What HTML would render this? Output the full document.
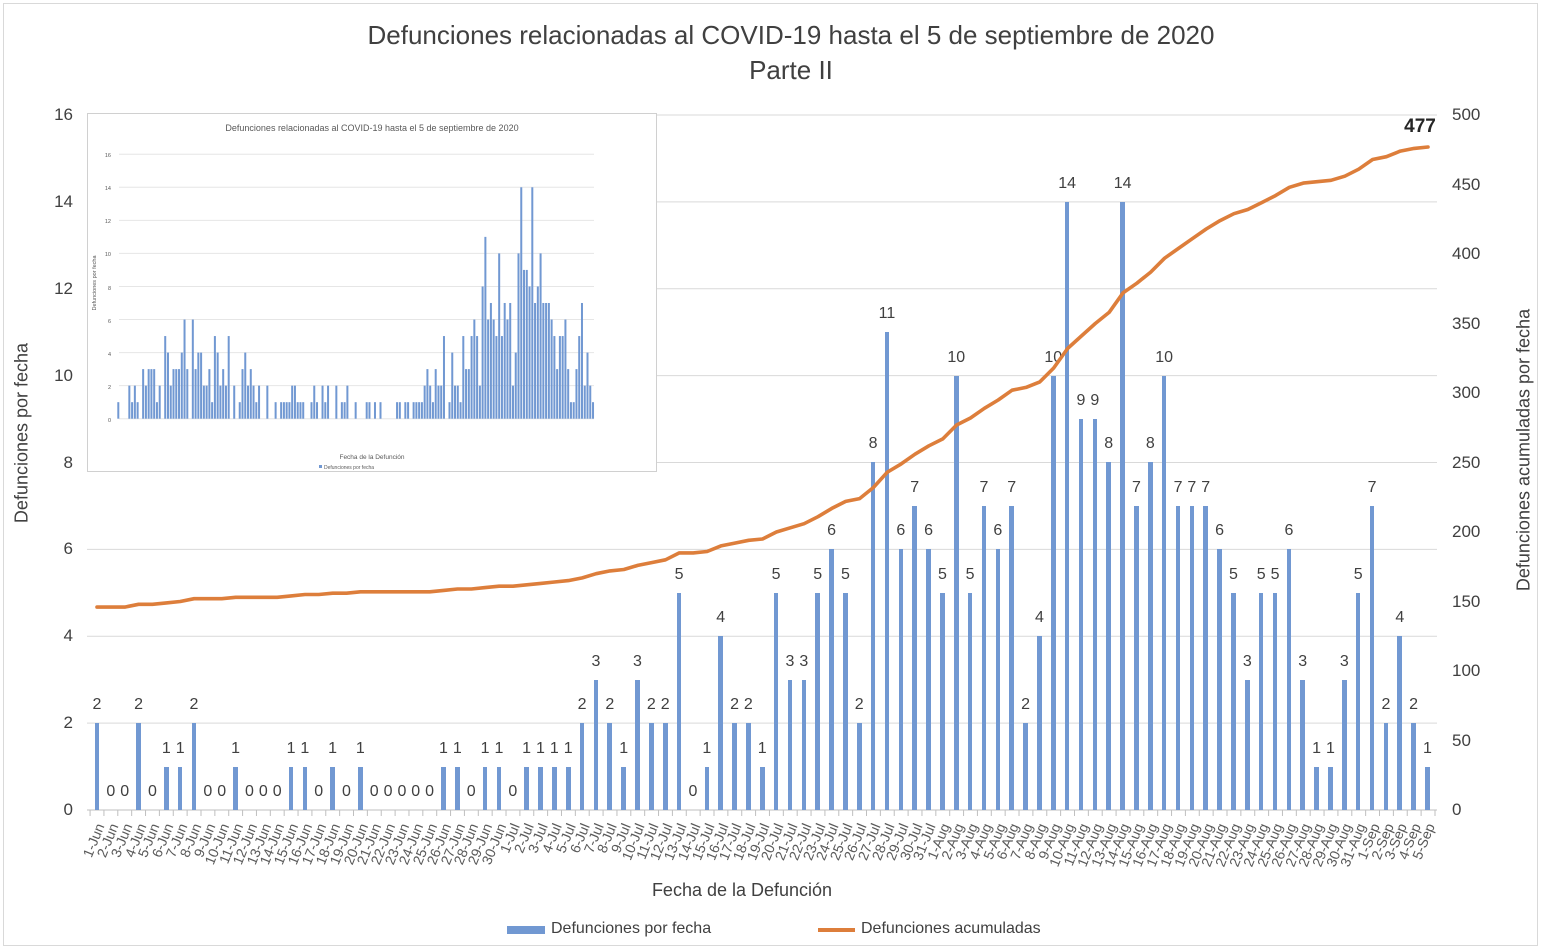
<!DOCTYPE html>
<html><head><meta charset="utf-8"><style>
body{margin:0;background:#fff;width:1542px;height:951px;overflow:hidden;position:relative;font-family:"Liberation Sans",sans-serif;color:#404040}
.frame{position:absolute;left:3px;top:3px;width:1533px;height:941px;border:1px solid #d9d9d9}
.t{position:absolute;white-space:nowrap}
#cols{position:absolute;left:90.07px;top:115px;width:1345px;height:695px;display:flex}
#cols>div{flex:1;position:relative}
#cols i{position:absolute;bottom:0;left:50%;margin-left:-2.3px;width:4.6px;height:calc(var(--v)*43.44px);background:#7198d2}
#cols b{position:absolute;left:-10px;right:-10px;text-align:center;bottom:calc(var(--v)*43.44px + 10px);font-weight:normal;font-size:16px;line-height:16px;color:#404040}
#cols s{text-decoration:none;position:absolute;right:50%;top:100%;margin-top:7px;margin-right:-3px;font-size:14px;line-height:14px;color:#595959;transform-origin:100% 50%;transform:rotate(-68deg);white-space:nowrap}
</style></head><body>
<div class="frame"></div>
<svg width="1542" height="951" style="position:absolute;left:0;top:0">
<g stroke="#d9d9d9" stroke-width="1">
<line x1="87" x2="1437" y1="723.1" y2="723.1"/><line x1="87" x2="1437" y1="636.25" y2="636.25"/><line x1="87" x2="1437" y1="549.4" y2="549.4"/><line x1="87" x2="1437" y1="462.5" y2="462.5"/><line x1="87" x2="1437" y1="375.6" y2="375.6"/><line x1="87" x2="1437" y1="288.75" y2="288.75"/><line x1="87" x2="1437" y1="201.9" y2="201.9"/><line x1="87" x2="1437" y1="115" y2="115"/>
</g>
<line x1="87" x2="1437" y1="810" y2="810" stroke="#bfbfbf"/>
<g id="ticks" stroke="#bfbfbf"></g>
</svg>
<div class="t" style="left:0;width:1582px;text-align:center;top:20px;font-size:26px;color:#404040">Defunciones relacionadas al COVID-19 hasta el 5 de septiembre de 2020</div>
<div class="t" style="left:0;width:1582px;text-align:center;top:55px;font-size:26px;color:#404040">Parte II</div>
<div id="la" style="position:absolute;left:30px;width:43px;top:0;font-size:17px;color:#404040;text-align:right">
<div class="t" style="right:0;top:105px">16</div><div class="t" style="right:0;top:192px">14</div><div class="t" style="right:0;top:279px">12</div><div class="t" style="right:0;top:366px">10</div><div class="t" style="right:0;top:453px">8</div><div class="t" style="right:0;top:539px">6</div><div class="t" style="right:0;top:626px">4</div><div class="t" style="right:0;top:713px">2</div><div class="t" style="right:0;top:800px">0</div>
</div>
<div style="position:absolute;left:1452px;top:0;font-size:17px;color:#404040">
<div class="t" style="top:105px">500</div><div class="t" style="top:175px">450</div><div class="t" style="top:244px">400</div><div class="t" style="top:314px">350</div><div class="t" style="top:383px">300</div><div class="t" style="top:453px">250</div><div class="t" style="top:522px">200</div><div class="t" style="top:592px">150</div><div class="t" style="top:661px">100</div><div class="t" style="top:731px">50</div><div class="t" style="top:800px">0</div>
</div>
<div class="t" style="left:22px;top:433px;font-size:18px;transform:translate(-50%,-50%) rotate(-90deg)">Defunciones por fecha</div>
<div class="t" style="left:1524px;top:450px;font-size:18px;transform:translate(-50%,-50%) rotate(-90deg)">Defunciones acumuladas por fecha</div>
<div class="t" style="left:742px;top:880px;font-size:18px;transform:translateX(-50%)">Fecha de la Defunción</div>
<div style="position:absolute;left:507px;top:926px;width:38px;height:8px;background:#7198d2"></div>
<div class="t" style="left:551px;top:920px;font-size:16px">Defunciones por fecha</div>
<div style="position:absolute;left:818px;top:928px;width:37px;height:4px;background:#dd7e3b"></div>
<div class="t" style="left:861px;top:920px;font-size:16px">Defunciones acumuladas</div>
<div id="cols">
<div style="--v:2"><i></i><b>2</b><s>1-Jun</s></div><div style="--v:0"><i></i><b>0</b><s>2-Jun</s></div><div style="--v:0"><i></i><b>0</b><s>3-Jun</s></div><div style="--v:2"><i></i><b>2</b><s>4-Jun</s></div><div style="--v:0"><i></i><b>0</b><s>5-Jun</s></div><div style="--v:1"><i></i><b>1</b><s>6-Jun</s></div><div style="--v:1"><i></i><b>1</b><s>7-Jun</s></div><div style="--v:2"><i></i><b>2</b><s>8-Jun</s></div><div style="--v:0"><i></i><b>0</b><s>9-Jun</s></div><div style="--v:0"><i></i><b>0</b><s>10-Jun</s></div>
<div style="--v:1"><i></i><b>1</b><s>11-Jun</s></div><div style="--v:0"><i></i><b>0</b><s>12-Jun</s></div><div style="--v:0"><i></i><b>0</b><s>13-Jun</s></div><div style="--v:0"><i></i><b>0</b><s>14-Jun</s></div><div style="--v:1"><i></i><b>1</b><s>15-Jun</s></div><div style="--v:1"><i></i><b>1</b><s>16-Jun</s></div><div style="--v:0"><i></i><b>0</b><s>17-Jun</s></div><div style="--v:1"><i></i><b>1</b><s>18-Jun</s></div><div style="--v:0"><i></i><b>0</b><s>19-Jun</s></div><div style="--v:1"><i></i><b>1</b><s>20-Jun</s></div>
<div style="--v:0"><i></i><b>0</b><s>21-Jun</s></div><div style="--v:0"><i></i><b>0</b><s>22-Jun</s></div><div style="--v:0"><i></i><b>0</b><s>23-Jun</s></div><div style="--v:0"><i></i><b>0</b><s>24-Jun</s></div><div style="--v:0"><i></i><b>0</b><s>25-Jun</s></div><div style="--v:1"><i></i><b>1</b><s>26-Jun</s></div><div style="--v:1"><i></i><b>1</b><s>27-Jun</s></div><div style="--v:0"><i></i><b>0</b><s>28-Jun</s></div><div style="--v:1"><i></i><b>1</b><s>29-Jun</s></div><div style="--v:1"><i></i><b>1</b><s>30-Jun</s></div>
<div style="--v:0"><i></i><b>0</b><s>1-Jul</s></div><div style="--v:1"><i></i><b>1</b><s>2-Jul</s></div><div style="--v:1"><i></i><b>1</b><s>3-Jul</s></div><div style="--v:1"><i></i><b>1</b><s>4-Jul</s></div><div style="--v:1"><i></i><b>1</b><s>5-Jul</s></div><div style="--v:2"><i></i><b>2</b><s>6-Jul</s></div><div style="--v:3"><i></i><b>3</b><s>7-Jul</s></div><div style="--v:2"><i></i><b>2</b><s>8-Jul</s></div><div style="--v:1"><i></i><b>1</b><s>9-Jul</s></div><div style="--v:3"><i></i><b>3</b><s>10-Jul</s></div>
<div style="--v:2"><i></i><b>2</b><s>11-Jul</s></div><div style="--v:2"><i></i><b>2</b><s>12-Jul</s></div><div style="--v:5"><i></i><b>5</b><s>13-Jul</s></div><div style="--v:0"><i></i><b>0</b><s>14-Jul</s></div><div style="--v:1"><i></i><b>1</b><s>15-Jul</s></div><div style="--v:4"><i></i><b>4</b><s>16-Jul</s></div><div style="--v:2"><i></i><b>2</b><s>17-Jul</s></div><div style="--v:2"><i></i><b>2</b><s>18-Jul</s></div><div style="--v:1"><i></i><b>1</b><s>19-Jul</s></div><div style="--v:5"><i></i><b>5</b><s>20-Jul</s></div>
<div style="--v:3"><i></i><b>3</b><s>21-Jul</s></div><div style="--v:3"><i></i><b>3</b><s>22-Jul</s></div><div style="--v:5"><i></i><b>5</b><s>23-Jul</s></div><div style="--v:6"><i></i><b>6</b><s>24-Jul</s></div><div style="--v:5"><i></i><b>5</b><s>25-Jul</s></div><div style="--v:2"><i></i><b>2</b><s>26-Jul</s></div><div style="--v:8"><i></i><b>8</b><s>27-Jul</s></div><div style="--v:11"><i></i><b>11</b><s>28-Jul</s></div><div style="--v:6"><i></i><b>6</b><s>29-Jul</s></div><div style="--v:7"><i></i><b>7</b><s>30-Jul</s></div>
<div style="--v:6"><i></i><b>6</b><s>31-Jul</s></div>
<div style="--v:5"><i></i><b>5</b><s>1-Aug</s></div><div style="--v:10"><i></i><b>10</b><s>2-Aug</s></div><div style="--v:5"><i></i><b>5</b><s>3-Aug</s></div><div style="--v:7"><i></i><b>7</b><s>4-Aug</s></div><div style="--v:6"><i></i><b>6</b><s>5-Aug</s></div><div style="--v:7"><i></i><b>7</b><s>6-Aug</s></div><div style="--v:2"><i></i><b>2</b><s>7-Aug</s></div><div style="--v:4"><i></i><b>4</b><s>8-Aug</s></div><div style="--v:10"><i></i><b>10</b><s>9-Aug</s></div><div style="--v:14"><i></i><b>14</b><s>10-Aug</s></div>
<div style="--v:9"><i></i><b>9</b><s>11-Aug</s></div><div style="--v:9"><i></i><b>9</b><s>12-Aug</s></div><div style="--v:8"><i></i><b>8</b><s>13-Aug</s></div><div style="--v:14"><i></i><b>14</b><s>14-Aug</s></div><div style="--v:7"><i></i><b>7</b><s>15-Aug</s></div><div style="--v:8"><i></i><b>8</b><s>16-Aug</s></div><div style="--v:10"><i></i><b>10</b><s>17-Aug</s></div><div style="--v:7"><i></i><b>7</b><s>18-Aug</s></div><div style="--v:7"><i></i><b>7</b><s>19-Aug</s></div><div style="--v:7"><i></i><b>7</b><s>20-Aug</s></div>
<div style="--v:6"><i></i><b>6</b><s>21-Aug</s></div><div style="--v:5"><i></i><b>5</b><s>22-Aug</s></div><div style="--v:3"><i></i><b>3</b><s>23-Aug</s></div><div style="--v:5"><i></i><b>5</b><s>24-Aug</s></div><div style="--v:5"><i></i><b>5</b><s>25-Aug</s></div><div style="--v:6"><i></i><b>6</b><s>26-Aug</s></div><div style="--v:3"><i></i><b>3</b><s>27-Aug</s></div><div style="--v:1"><i></i><b>1</b><s>28-Aug</s></div><div style="--v:1"><i></i><b>1</b><s>29-Aug</s></div><div style="--v:3"><i></i><b>3</b><s>30-Aug</s></div>
<div style="--v:5"><i></i><b>5</b><s>31-Aug</s></div>
<div style="--v:7"><i></i><b>7</b><s>1-Sep</s></div><div style="--v:2"><i></i><b>2</b><s>2-Sep</s></div><div style="--v:4"><i></i><b>4</b><s>3-Sep</s></div><div style="--v:2"><i></i><b>2</b><s>4-Sep</s></div><div style="--v:1"><i></i><b>1</b><s>5-Sep</s></div>
</div>
<svg width="1542" height="951" style="position:absolute;left:0;top:0;pointer-events:none">
<polyline id="cum" fill="none" stroke="#dd7e3b" stroke-width="3.6" stroke-linejoin="round" stroke-linecap="round"/>
<text x="1420" y="132" font-size="19" font-weight="bold" fill="#262626" text-anchor="middle" font-family="Liberation Sans">477</text>
</svg>
<svg width="570" height="360" style="position:absolute;left:87px;top:113px;background:#fff" >
<rect x="0.5" y="0.5" width="569" height="358" fill="#fff" stroke="#d0d0d0"/>
<g id="ig" stroke="#e6e6e6"></g>
<g id="ib" fill="#7198d2"></g>
<g font-family="Liberation Sans" fill="#595959">
<text x="285" y="18" font-size="9" text-anchor="middle">Defunciones relacionadas al COVID-19 hasta el 5 de septiembre de 2020</text>
<text x="24" y="44" font-size="5.5" text-anchor="end">16</text><text x="24" y="77" font-size="5.5" text-anchor="end">14</text><text x="24" y="110" font-size="5.5" text-anchor="end">12</text><text x="24" y="143" font-size="5.5" text-anchor="end">10</text><text x="24" y="177" font-size="5.5" text-anchor="end">8</text><text x="24" y="210" font-size="5.5" text-anchor="end">6</text><text x="24" y="243" font-size="5.5" text-anchor="end">4</text><text x="24" y="276" font-size="5.5" text-anchor="end">2</text><text x="24" y="309" font-size="5.5" text-anchor="end">0</text>
<text transform="translate(9,170) rotate(-90)" font-size="5.5" text-anchor="middle">Defunciones por fecha</text>
<text x="285" y="346" font-size="6.5" text-anchor="middle">Fecha de la Defunción</text>
<rect x="232" y="352" width="3" height="3" fill="#7198d2"/><text x="237" y="356" font-size="5">Defunciones por fecha</text>
</g>
</svg>
<script>
var v=[2,0,0,2,0,1,1,2,0,0,1,0,0,0,1,1,0,1,0,1,0,0,0,0,0,1,1,0,1,1,0,1,1,1,1,2,3,2,1,3,2,2,5,0,1,4,2,2,1,5,3,3,5,6,5,2,8,11,6,7,6,5,10,5,7,6,7,2,4,10,14,9,9,8,14,7,8,10,7,7,7,6,5,3,5,5,6,3,1,1,3,5,7,2,4,2,1];
var c=144,p=[],tk='';
for(var i=0;i<v.length;i++){c+=v[i];p.push((97+i*13.865).toFixed(1)+','+(810-c*1.39).toFixed(1));var tx=90.07+i*13.865;tk+='<line x1="'+tx+'" x2="'+tx+'" y1="810" y2="816"/>';}
tk+='<line x1="1435" x2="1435" y1="810" y2="816"/>';
document.getElementById('cum').setAttribute('points',p.join(' '));
document.getElementById('ticks').innerHTML=tk;
var e={0:1,4:2,5:1,6:2,7:1,9:3,10:2,11:3,12:3,13:3,14:1,15:2,17:5,18:4,19:2,20:3,21:3,22:3,23:4,24:6,25:3,27:6,28:3,29:4,30:4,31:2,32:2,33:3,34:1,35:5,36:4,37:2,38:3,39:2,40:5,42:2,44:1,45:3,46:4,47:2,48:3,49:2,50:1,51:2,54:2,57:1,59:1,60:1,61:1,62:1,63:2,64:2,65:1,66:1,67:1,70:1,71:2,72:1,74:2,75:1};
var a=[];for(i=0;i<76;i++)a.push(e[i]||0);a=a.concat(v);
var g='',b='';for(var k=0;k<=8;k++){var y=305.7-k*33.06;g+='<line x1="32" x2="507" y1="'+y+'" y2="'+y+'"/>';}
for(i=0;i<a.length;i++){var h=a[i]*16.53;if(h>0)b+='<rect x="'+(30.3+i*2.76)+'" y="'+(305.7-h)+'" width="2" height="'+h+'"/>';}
document.getElementById('ig').innerHTML=g;document.getElementById('ib').innerHTML=b;
</script>
</body></html>
